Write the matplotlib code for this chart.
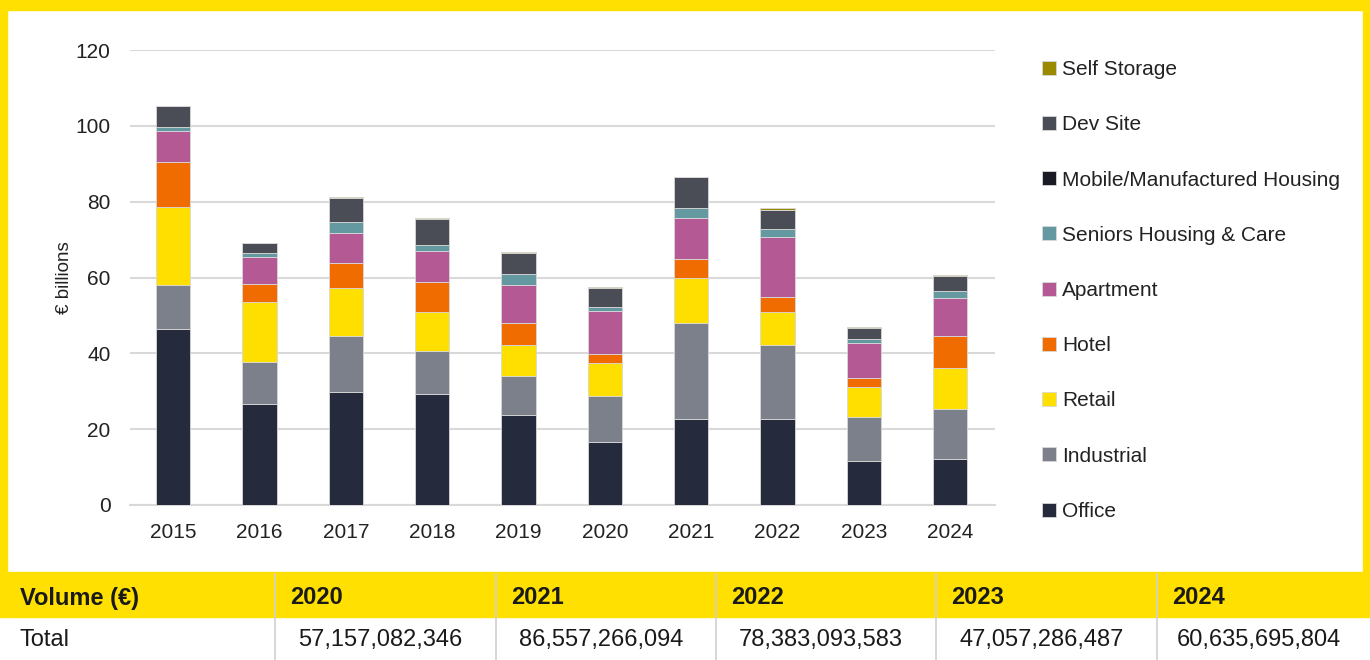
import matplotlib
matplotlib.use("Agg")
import matplotlib.pyplot as plt
import numpy as np
from matplotlib.patches import Rectangle

plt.rcParams['font.family'] = ['Liberation Sans', 'DejaVu Sans']

years = ["2015", "2016", "2017", "2018", "2019", "2020", "2021", "2022", "2023", "2024"]
office      = [46.4, 26.6, 29.9, 29.4, 23.7, 16.7, 22.6, 22.6, 11.7, 12.2]
industrial  = [11.6, 11.2, 14.8, 11.3, 10.3, 12.1, 25.3, 19.7, 11.6, 13.2]
retail      = [20.5, 15.7, 12.5, 10.1, 8.2, 8.7, 12.1, 8.7, 7.8, 10.8]
hotel       = [12.0, 4.7, 6.6, 8.1, 5.7, 2.3, 4.8, 3.9, 2.3, 8.4]
apartment   = [8.1, 7.2, 7.9, 8.0, 10.0, 11.3, 10.9, 15.9, 9.3, 9.9]
seniors     = [1.2, 1.1, 3.0, 1.6, 3.0, 1.2, 2.7, 2.0, 1.1, 2.0]
mobile      = [0.0, 0.0, 0.0, 0.0, 0.0, 0.0, 0.0, 0.0, 0.0, 0.0]
dev_site    = [5.3, 2.5, 6.2, 6.9, 5.5, 4.9, 8.0, 5.1, 3.0, 4.0]
self_storage = [0.2, 0.2, 0.3, 0.2, 0.2, 0.2, 0.1, 0.4, 0.2, 0.1]

series_names = ["Office", "Industrial", "Retail", "Hotel", "Apartment",
                "Seniors Housing & Care", "Mobile/Manufactured Housing",
                "Dev Site", "Self Storage"]
series_values = [office, industrial, retail, hotel, apartment, seniors,
                 mobile, dev_site, self_storage]
series_colors = ["#262a3d", "#7b808a", "#ffdf00", "#f06c00", "#b45994",
                 "#6599a2", "#1a1a24", "#4a4d56", "#9a8a00"]

table_header = "Volume (€)"
table_years = ["2020", "2021", "2022", "2023", "2024"]
table_row_label = "Total"
table_totals = [57157082346, 86557266094, 78383093583, 47057286487, 60635695804]

W, H = 1370, 660
fig = plt.figure(figsize=(W / 100, H / 100), dpi=100)
YEL = "#ffe000"

def fx(px):
    return px / W

def fy(py):
    return 1 - py / H

# yellow frame
fig.patches.append(Rectangle((0, fy(10)), 1, 10 / H, transform=fig.transFigure, color=YEL, zorder=0))
fig.patches.append(Rectangle((0, fy(572)), 7 / W, (572 - 10) / H, transform=fig.transFigure, color=YEL, zorder=0))
fig.patches.append(Rectangle((fx(1363), fy(572)), 7 / W, (572 - 10) / H, transform=fig.transFigure, color=YEL, zorder=0))

ax = fig.add_axes([fx(130), fy(505), fx(995) - fx(130), (505 - 50) / H])
x = np.arange(len(years))
bottom = np.zeros(len(years))
handles = []
for name, vals, col in zip(series_names, series_values, series_colors):
    b = ax.bar(x, vals, 0.4, bottom=bottom, color=col, label=name,
               edgecolor="#d8d8d8", linewidth=0.6, zorder=3)
    handles.append(b)
    bottom += np.array(vals)

ax.set_xlim(-0.5, 9.52)
ax.set_ylim(0, 120)
ax.set_yticks(range(0, 121, 20))
ax.set_xticks(x)
ax.set_xticklabels(years)
ax.grid(axis="y", color="#d9d9d9", linewidth=1.5, zorder=0)
for s in ["top", "right", "left"]:
    ax.spines[s].set_visible(False)
ax.spines["bottom"].set_color("#d9d9d9")
ax.spines["bottom"].set_linewidth(1.5)
ax.tick_params(axis="both", length=0, labelsize=15, colors="#222222")
ax.tick_params(axis="x", pad=13)
ax.tick_params(axis="y", pad=14)
ax.set_ylabel("€ billions", fontsize=13.5, color="#222222")
ax.yaxis.set_label_coords((73 - 130) / 865, 0.5)

leg = fig.legend(handles[::-1], series_names[::-1], loc="upper left",
                 bbox_to_anchor=(fx(1042), fy(60)), bbox_transform=fig.transFigure,
                 frameon=False, fontsize=15, handlelength=0.65, handleheight=0.65,
                 handletextpad=0.3, labelspacing=1.74, borderpad=0, borderaxespad=0)
for t in leg.get_texts():
    t.set_color("#222222")

# table
col_edges = [7, 275, 496, 716, 936, 1157, 1370]
fig.patches.append(Rectangle((0, fy(617)), 1, 45 / H, transform=fig.transFigure, color=YEL, zorder=0))
for ce in col_edges[1:-1]:
    fig.lines.append(plt.Line2D([fx(ce), fx(ce)], [fy(660), fy(574)], transform=fig.transFigure,
                                color="#cfcfcf", linewidth=1.2))
fig.text(fx(20), fy(598), table_header, fontsize=17, fontweight="bold", va="center", ha="left", color="#1a1a1a")
fig.text(fx(20), fy(640), table_row_label, fontsize=17, va="center", ha="left", color="#1a1a1a")
for i, (yr, tot) in enumerate(zip(table_years, table_totals)):
    l, r = col_edges[i + 1], col_edges[i + 2]
    fig.text(fx(l + 15), fy(598), yr, fontsize=17, fontweight="bold", va="center", ha="left", color="#1a1a1a")
    fig.text(fx((l + r) / 2 - 5), fy(640), f"{tot:,}", fontsize=17, va="center", ha="center", color="#1a1a1a")

fig.savefig("out.png", dpi=100, facecolor="white")
